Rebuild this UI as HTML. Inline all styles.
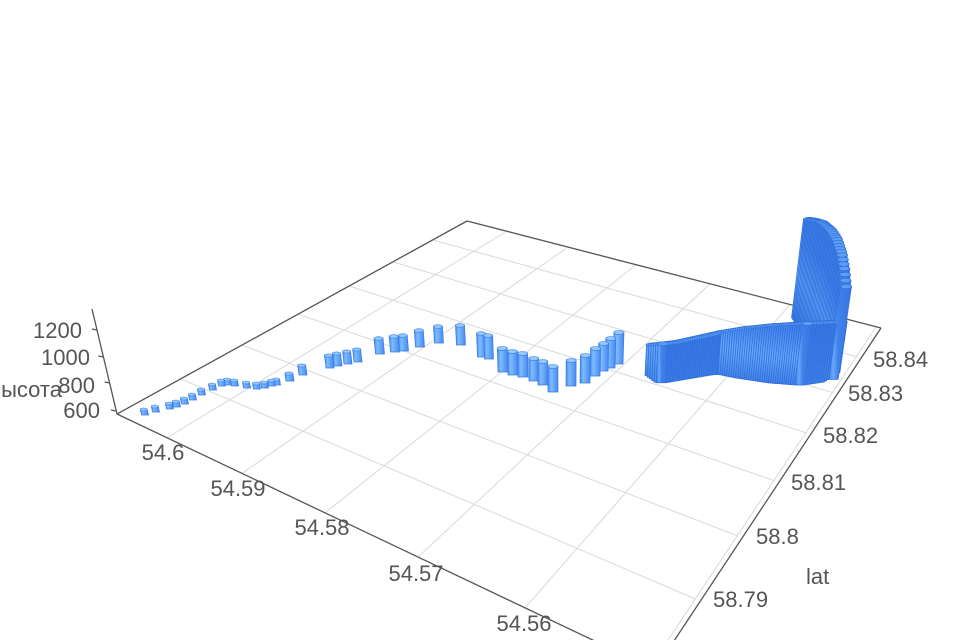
<!DOCTYPE html>
<html><head><meta charset="utf-8">
<style>
html,body{margin:0;padding:0;background:#fff;}
svg{display:block;}
text{font-family:"Liberation Sans","DejaVu Sans",sans-serif;font-size:22px;fill:#555;}
</style></head><body>
<svg id="c" width="960" height="640" viewBox="0 0 960 640" xmlns="http://www.w3.org/2000/svg">
<defs>
<linearGradient id="bg" x1="0" y1="0" x2="1" y2="0">
<stop offset="0" stop-color="#4384ec"/>
<stop offset="0.3" stop-color="#7dbcff"/>
<stop offset="0.55" stop-color="#6aabfa"/>
<stop offset="1" stop-color="#4787ee"/>
</linearGradient>
<linearGradient id="bd" x1="0" y1="0" x2="1" y2="0">
<stop offset="0" stop-color="#3372de"/>
<stop offset="0.25" stop-color="#66a8fb"/>
<stop offset="0.45" stop-color="#4181ea"/>
<stop offset="1" stop-color="#3575e2"/>
</linearGradient>
</defs>
<rect width="960" height="640" fill="#fff"/>
<g stroke="#dcdcdc" stroke-width="1.1" fill="none">
<line x1="167" y1="437.8" x2="505" y2="232.3"/>
<line x1="242" y1="473.4" x2="566" y2="248.6"/>
<line x1="325" y1="512.9" x2="636" y2="264.7"/>
<line x1="418" y1="557.1" x2="710" y2="283.8"/>
<line x1="525" y1="608" x2="790" y2="304.5"/>
<line x1="876" y1="327" x2="668" y2="640"/>
<line x1="858" y1="357" x2="433" y2="240"/>
<line x1="834" y1="393" x2="393" y2="262"/>
<line x1="807" y1="433" x2="349" y2="286"/>
<line x1="775" y1="481" x2="298" y2="314"/>
<line x1="738" y1="536" x2="242" y2="345"/>
<line x1="695.5" y1="599" x2="181" y2="379"/>
</g>
<g stroke="#555" stroke-width="1.3" fill="none">
<line x1="467" y1="221" x2="117" y2="414"/>
<line x1="467" y1="221" x2="881" y2="328"/>
<line x1="117" y1="414" x2="660" y2="672"/>
<line x1="881" y1="328" x2="668" y2="650"/>
<line x1="117" y1="414" x2="92" y2="309"/>
<line x1="116" y1="411" x2="111" y2="410"/>
<line x1="109.6" y1="383" x2="104.6" y2="382"/>
<line x1="103.4" y1="357" x2="98.4" y2="356"/>
<line x1="97" y1="330" x2="92" y2="329"/>
</g>
<g id="bars"></g>
<text x="100" y="418" text-anchor="end">600</text>
<text x="95" y="393" text-anchor="end">800</text>
<text x="90" y="365" text-anchor="end">1000</text>
<text x="82" y="338" text-anchor="end">1200</text>
<text x="62" y="397" text-anchor="end">высота</text>
<text x="163" y="460" text-anchor="middle">54.6</text>
<text x="238" y="496" text-anchor="middle">54.59</text>
<text x="322" y="535" text-anchor="middle">54.58</text>
<text x="416" y="581" text-anchor="middle">54.57</text>
<text x="524" y="631" text-anchor="middle">54.56</text>
<text x="873" y="367">58.84</text>
<text x="848" y="401">58.83</text>
<text x="823" y="443">58.82</text>
<text x="791" y="490">58.81</text>
<text x="756" y="544">58.8</text>
<text x="713" y="607">58.79</text>
<text x="806" y="584">lat</text>
</svg>
<script>
(function(){
var NS='http://www.w3.org/2000/svg';
var g=document.getElementById('bars');
function interp(p,x){
  if(x<=p[0][0])return p[0][1];
  for(var i=1;i<p.length;i++){
    if(x<=p[i][0]){var a=p[i-1],b=p[i];return a[1]+(b[1]-a[1])*(x-a[0])/(b[0]-a[0]);}
  }
  return p[p.length-1][1];
}
var B=[];
var sm=[[145,412],[156,409],[170,406],[177,404],[185,401],[193,397],[202,392],[213,387],[222,383],[228,382],[235,383],[247,385],[257,386],[265,385],[272,383],[277,382]];
sm.forEach(function(a){B.push([a[0],a[1]+3,a[1]-3,7,0]);});
B.push([290,381,373,8,0]);B.push([303,375,365,8,0]);
var mid=[[330,355,368,8],[338,353,366,8],[348,351,364,8],[358,349,362,8],
[380,338,354,9],[395,336,352,9],[404,335,351,9],
[420,330,347,9],[439,326,343,9],[461,325,345,9],
[482,333,357,9],[489,335,359,9],
[503,348,372,10],[513,351,375,10],[523,353,377,10],
[534,358,381,10],[543,361,385,10],[553,366,392,10],
[571,360,386,10],[585,355,383,10],[595,348,376,10],[603,343,371,10],[610,338,368,10],[618,332,364,10]];
mid.forEach(function(a){B.push([a[0],a[2],a[1],a[3],0]);});
var bt=[[645,345],[673,342],[700,336],[717,332],[740,328],[767,325],[800,323],[840,321]];
var bb=[[645,372],[660,383],[690,378],[707,375],[720,374],[740,378],[773,383],[800,385],[820,382],[836,372]];
for(var x=650;x<=836;x+=2.2){B.push([x,interp(bb,x),interp(bt,x),10,1]);}
var tt=[[0,288],[0.1,268],[0.2,253],[0.35,238],[0.5,229],[0.7,222],[0.85,220],[1,219]];
for(var k=1;k>=-0.001;k-=0.03){B.push([833-36*k,380-62*k,interp(tt,k),11,1]);}
B.sort(function(a,b){return a[1]-b[1];});
B.forEach(function(b){
  var cx=b[0],by=b[1],ty=b[2],w=b[3],h=w/2,d=b[4];
  var tx=560+(cx-560)*(2276-ty)/(2276-by);
  var p=document.createElementNS(NS,'path');
  p.setAttribute('d','M'+(cx-h)+','+by+' L'+(cx+h)+','+by+' L'+(tx+h)+','+ty+' L'+(tx-h)+','+ty+' Z');
  p.setAttribute('fill',d?'url(#bd)':'url(#bg)');
  p.setAttribute('stroke',d?'#2f6edb':'#3b7be4');
  p.setAttribute('stroke-width','0.7');
  g.appendChild(p);
  var e=document.createElementNS(NS,'ellipse');
  e.setAttribute('cx',tx);e.setAttribute('cy',ty+0.5);
  e.setAttribute('rx',h);e.setAttribute('ry',Math.max(1.5,w*0.2));
  e.setAttribute('fill',d?'#5d9ef5':'#94c9ff');e.setAttribute('stroke',d?'#2f6edb':'#3b7be4');e.setAttribute('stroke-width','0.6');
  g.appendChild(e);
});
})();
</script>
</body></html>
